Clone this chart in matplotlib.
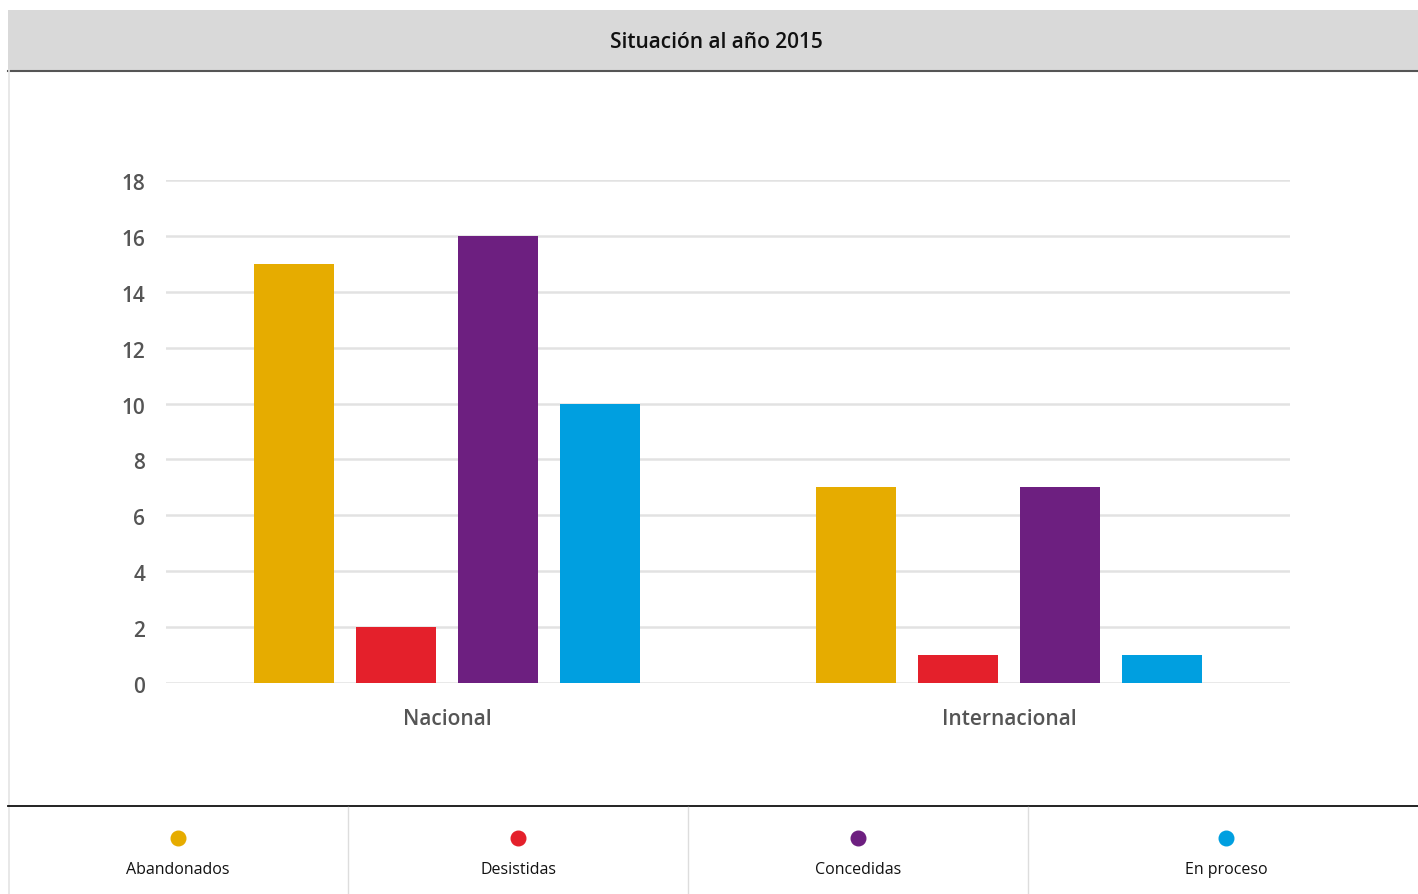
import numpy as np
import matplotlib
matplotlib.use('Agg')
from matplotlib import pyplot as plt
from matplotlib.patches import Rectangle
from matplotlib.lines import Line2D
from matplotlib.transforms import ScaledTranslation

plt.rcParams['font.family'] = ['Open Sans', 'DejaVu Sans']

TITLE = 'Situación al año 2015'
groups = ['Nacional', 'Internacional']
series = ['Abandonados', 'Desistidas', 'Concedidas', 'En proceso']
colors = ['#E6AC00', '#E4202B', '#6D1F80', '#009FE0']
abandonados = [15, 7]
desistidas = [2, 1]
concedidas = [16, 7]
en_proceso = [10, 1]
yticks = [0, 2, 4, 6, 8, 10, 12, 14, 16, 18]

W, H = 1418, 894
fig = plt.figure(figsize=(W / 100, H / 100), dpi=100)
fig.patch.set_facecolor('white')

def fx(px):
    return px / W

def fy(py):
    return 1 - py / H

# header band and frame lines
fig.add_artist(Rectangle((fx(8), fy(70)), fx(W - 8), 60 / H,
                         transform=fig.transFigure, facecolor='#d9d9d9',
                         edgecolor='none'))
fig.add_artist(Line2D([fx(8), 1], [fy(70.5), fy(70.5)], color='#555555', lw=1.5))
fig.add_artist(Line2D([fx(8.5), fx(8.5)], [fy(70), 0], color='#e4e4e4', lw=1.2))
fig.add_artist(Line2D([fx(8), 1], [fy(806), fy(806)], color='#111111', lw=1.3))
fig.text(fx(716), fy(43), TITLE, ha='center', va='center', fontsize=15,
         fontweight='semibold', color='#111111')

# bar chart
ax = fig.add_axes([fx(166), fy(683), fx(1290 - 166), (683 - 180) / H])
x = np.arange(len(groups))
pitch, width = 0.1815, 0.1423
data = [abandonados, desistidas, concedidas, en_proceso]
for i, (vals, col) in enumerate(zip(data, colors)):
    ax.bar(x + (i - 1.5) * pitch, vals, width=width, color=col, zorder=3)

ax.set_xlim(-0.5, 1.5)
ax.set_ylim(0, 18)
ax.set_yticks(yticks)
ax.set_xticks(x)
ax.set_xticklabels(groups)
ax.grid(axis='y', color='#e2e2e2', lw=1.8, zorder=0)
ax.tick_params(axis='both', length=0, colors='#555555')
ax.tick_params(axis='y', pad=15, labelsize=15)
ax.tick_params(axis='x', pad=19, labelsize=15)
for s in ax.spines.values():
    s.set_visible(False)
shift = ScaledTranslation(0, -2 / 100, fig.dpi_scale_trans)
for lbl in ax.get_yticklabels():
    lbl.set_fontweight('semibold')
    lbl.set_transform(lbl.get_transform() + shift)
for lbl in ax.get_xticklabels():
    lbl.set_fontweight('semibold')

# legend cells along the bottom
edges = [8, 348, 688, 1028, 1418]
centers = [178, 518, 858, 1226]
for i, (name, col) in enumerate(zip(series, colors)):
    cx = centers[i]
    if i > 0:
        fig.add_artist(Line2D([fx(edges[i]), fx(edges[i])], [fy(807), 0],
                              color='#dddddd', lw=1))
    fig.add_artist(Line2D([fx(cx)], [fy(838)], marker='o', markersize=10.5,
                          color=col, linestyle='none'))
    fig.text(fx(cx), fy(870), name, ha='center', va='center', fontsize=11.5,
             color='#111111')

fig.savefig('out.png', dpi=100)
